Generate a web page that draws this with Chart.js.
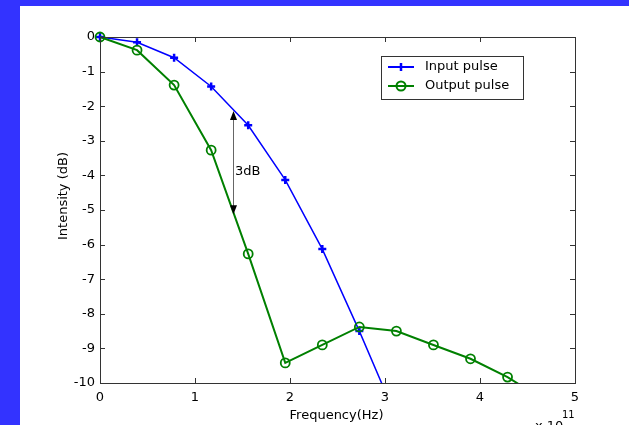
<!DOCTYPE html>
<html>
<head>
<meta charset="utf-8">
<script src="https://cdn.jsdelivr.net/npm/chart.js@4"></script>
<style>
html, body { margin: 0; padding: 0; background: #3333ff; overflow: hidden; }
#wrap { position: absolute; left: 20px; top: 6px; width: 609px; height: 419px; background: #fff; }
</style>
</head>
<body>
<div id="wrap"><canvas id="chart" width="609" height="419"></canvas></div>
<script>
// frequency in units of 1e11 Hz
const freq = [0, 0.39, 0.78, 1.17, 1.56, 1.95, 2.34, 2.73, 3.12, 3.51, 3.90, 4.29, 4.68];
const inputDb = [0, -0.15, -0.6, -1.43, -2.55, -4.13, -6.13, -8.5, -11.0];
const outputDb = [0, -0.38, -1.39, -3.27, -6.27, -9.42, -8.9, -8.38, -8.5, -8.9, -9.3, -9.83, -10.5];
const xTicks = [0, 1, 2, 3, 4, 5];
const yTicks = [0, -1, -2, -3, -4, -5, -6, -7, -8, -9, -10];
const arrowX = 1.4, arrowTop = -2.14, arrowBottom = -5.12;

const FONT = '13px "DejaVu Sans"';
const BLUE = '#0000ff';
const GREEN = '#008000';

function toPoints(ys) {
    return ys.map((y, i) => ({ x: freq[i], y: y }));
}

const decor = {
    id: 'decor',
    afterDraw(chart) {
        const ctx = chart.ctx;
        const a = chart.chartArea;
        const xs = chart.scales.x, ys = chart.scales.y;
        ctx.save();

        // axis box with inward ticks on all sides
        ctx.strokeStyle = '#333';
        ctx.lineWidth = 1;
        ctx.strokeRect(a.left + 0.5, a.top + 0.5, a.right - a.left, a.bottom - a.top);
        ctx.beginPath();
        xTicks.forEach(v => {
            const px = Math.round(xs.getPixelForValue(v)) + 0.5;
            ctx.moveTo(px, a.bottom); ctx.lineTo(px, a.bottom - 5);
            ctx.moveTo(px, a.top); ctx.lineTo(px, a.top + 5);
        });
        yTicks.forEach(v => {
            const py = Math.round(ys.getPixelForValue(v)) + 0.5;
            ctx.moveTo(a.left, py); ctx.lineTo(a.left + 5, py);
            ctx.moveTo(a.right, py); ctx.lineTo(a.right - 5, py);
        });
        ctx.stroke();

        // 3dB arrow
        const ax = Math.round(xs.getPixelForValue(arrowX)) + 0.5;
        const y1 = ys.getPixelForValue(arrowTop), y2 = ys.getPixelForValue(arrowBottom);
        ctx.strokeStyle = '#666';
        ctx.beginPath(); ctx.moveTo(ax, y1 + 4); ctx.lineTo(ax, y2 - 4); ctx.stroke();
        ctx.fillStyle = '#000';
        ctx.beginPath(); ctx.moveTo(ax, y1); ctx.lineTo(ax - 3.5, y1 + 9); ctx.lineTo(ax + 3.5, y1 + 9); ctx.fill();
        ctx.beginPath(); ctx.moveTo(ax, y2); ctx.lineTo(ax - 3.5, y2 - 9); ctx.lineTo(ax + 3.5, y2 - 9); ctx.fill();
        ctx.font = FONT;
        ctx.textBaseline = 'middle';
        ctx.textAlign = 'left';
        ctx.fillText('3dB', xs.getPixelForValue(1.42), ys.getPixelForValue(-3.9));

        // axis titles
        ctx.textAlign = 'center';
        ctx.fillText('Frequency(Hz)', (a.left + a.right) / 2 - 1, 410);
        ctx.save();
        ctx.translate(44, 190);
        ctx.rotate(-Math.PI / 2);
        ctx.fillText('Intensity (dB)', 0, 0);
        ctx.restore();
        ctx.textAlign = 'left';
        ctx.textBaseline = 'alphabetic';
        ctx.fillText('x 10', 515, 424);
        ctx.font = '10px "DejaVu Sans"';
        ctx.fillText('11', 542, 412);

        // legend
        const lx = 361, lt = 50;
        ctx.fillStyle = '#fff';
        ctx.fillRect(lx, lt, 142, 43);
        ctx.strokeStyle = '#333';
        ctx.strokeRect(lx + 0.5, lt + 0.5, 142, 43);
        const rows = [
            { label: 'Input pulse', color: BLUE, y: lt + 11, mark: 'cross' },
            { label: 'Output pulse', color: GREEN, y: lt + 30, mark: 'circle' }
        ];
        rows.forEach(r => {
            ctx.strokeStyle = r.color;
            ctx.lineWidth = 2;
            ctx.beginPath(); ctx.moveTo(lx + 7, r.y); ctx.lineTo(lx + 33, r.y); ctx.stroke();
            ctx.beginPath();
            if (r.mark === 'cross') {
                ctx.lineWidth = 2.5;
                ctx.moveTo(lx + 20, r.y - 4); ctx.lineTo(lx + 20, r.y + 4);
            } else {
                ctx.arc(lx + 20, r.y, 4.5, 0, Math.PI * 2);
            }
            ctx.stroke();
            ctx.fillStyle = '#000';
            ctx.font = FONT;
            ctx.textBaseline = 'middle';
            ctx.fillText(r.label, lx + 44, r.y);
        });
        ctx.restore();
    }
};

new Chart(document.getElementById('chart'), {
    type: 'scatter',
    data: {
        datasets: [
            {
                label: 'Input pulse',
                data: toPoints(inputDb),
                showLine: true,
                borderColor: BLUE,
                backgroundColor: BLUE,
                borderWidth: 1.5,
                pointStyle: 'cross',
                pointRadius: 4,
                pointBorderWidth: 2.5,
                clip: { left: 8, top: 8, right: 8, bottom: 0 },
                order: 2
            },
            {
                label: 'Output pulse',
                data: toPoints(outputDb),
                showLine: true,
                borderColor: GREEN,
                backgroundColor: 'rgba(0,0,0,0)',
                borderWidth: 2,
                pointStyle: 'circle',
                pointRadius: 4.5,
                pointBorderWidth: 1.8,
                clip: { left: 8, top: 8, right: 8, bottom: 0 },
                order: 1
            }
        ]
    },
    options: {
        responsive: false,
        animation: false,
        devicePixelRatio: 1,
        layout: { padding: { left: 0, right: 54, top: 31, bottom: 0 } },
        plugins: { legend: { display: false }, tooltip: { enabled: false } },
        scales: {
            x: {
                type: 'linear',
                min: 0,
                max: 5,
                afterFit: s => { s.height = 42; },
                afterBuildTicks: s => { s.ticks = xTicks.map(v => ({ value: v })); },
                grid: { display: false, drawTicks: false },
                border: { display: false },
                ticks: { color: '#000', font: { family: 'DejaVu Sans', size: 13 }, padding: 7, maxRotation: 0 }
            },
            y: {
                type: 'linear',
                min: -10,
                max: 0,
                afterFit: s => { s.width = 80; },
                afterBuildTicks: s => { s.ticks = yTicks.map(v => ({ value: v })); },
                grid: { display: false, drawTicks: false },
                border: { display: false },
                ticks: { color: '#000', font: { family: 'DejaVu Sans', size: 13 }, padding: 5 }
            }
        }
    },
    plugins: [decor]
});
</script>
</body>
</html>
